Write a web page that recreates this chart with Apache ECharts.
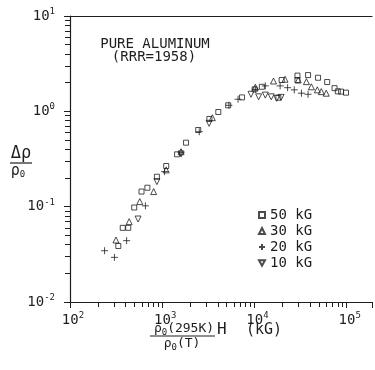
<!DOCTYPE html>
<html>
<head>
<meta charset="utf-8">
<script src="https://cdn.jsdelivr.net/npm/echarts@6/dist/echarts.min.js"></script>
<style>html,body{margin:0;padding:0;background:#fff}#c{width:375px;height:370px}</style>
</head>
<body>
<div id="c"></div>
<script>
// ---- data (x = rho0(295K)/rho0(T) * H [kG], y = delta rho / rho0) ----
const seriesNames = ['50 kG', '30 kG', '20 kG', '10 kG'];
const sq50 = [[334,0.0387],[373,0.060],[428,0.060],[497,0.098],[596,0.144],[690,0.158],[875,0.206],[1104,0.267],[1449,0.354],[1811,0.469],[2455,0.637],[3245,0.831],[4054,0.984],[5188,1.157],[7330,1.40],[10040,1.70],[12020,1.81],[18150,1.39],[19720,2.13],[29240,2.37],[29240,2.13],[38100,2.40],[48870,2.25],[61380,2.03],[73780,1.75],[80000,1.62],[86900,1.61],[98200,1.57]];
const tri30 = [[315,0.0447],[438,0.0696],[571,0.113],[807,0.144],[1104,0.243],[1600,0.377],[3494,0.857],[10210,1.79],[16070,2.08],[21430,2.17],[29780,2.13],[36560,2.05],[41380,1.81],[47970,1.68],[52970,1.61],[59980,1.55]];
const plus20 = [[237,0.0345],[303,0.0294],[411,0.044],[657,0.102],[1060,0.233],[1600,0.368],[2518,0.611],[5282,1.157],[6637,1.34],[10210,1.70],[13100,1.85],[18970,1.85],[22860,1.77],[26990,1.68],[32290,1.55],[38100,1.51]];
const dtri10 = [[547,0.0742],[875,0.183],[1600,0.357],[3221,0.748],[9160,1.51],[11090,1.42],[13100,1.48],[15180,1.42],[17420,1.37],[19410,1.40]];
const xTickExps = [2, 3, 4, 5];
const yTickExps = [-2, -1, 0, 1];
const titleLines = ['PURE ALUMINUM', '(RRR=1958)'];

// ---- helpers ----
const MONO = 'DejaVu Sans Mono';
const INK = '#1e1e1e';
const X_MAX_EXP = 5.274;
function minorTicks(exps) {
  const out = [];
  for (let i = 0; i < exps.length - 1; i++) {
    for (let k = 2; k <= 9; k++) out.push(exps[i] + Math.log10(k));
  }
  return out;
}
function powLabel(exps) {
  return function (v) {
    const l = Math.log10(v), e = Math.round(l);
    if (Math.abs(l - e) > 1e-6 || exps.indexOf(e) < 0) return '';
    return '{b|10}{s|' + e + '}';
  };
}
const labelRich = {
  b: { fontFamily: MONO, fontSize: 14, lineHeight: 14, color: INK },
  s: { fontFamily: MONO, fontSize: 9, lineHeight: 9, padding: [0, 0, 9, 0], color: INK }
};
const xLabelRich = {
  b: { fontFamily: MONO, fontSize: 14, lineHeight: 14, color: INK, padding: [0, 0, 0, 6] },
  s: { fontFamily: MONO, fontSize: 9, lineHeight: 9, padding: [0, 0, 9, 0], color: INK }
};
const hollow = { color: 'rgba(0,0,0,0)', borderColor: INK, borderWidth: 1 };
const PLUS = 'path://M0,5L10,5M5,0L5,10';
const DTRI = 'path://M0,0L10,0L5,9Z';

const chart = echarts.init(document.getElementById('c'), null, { renderer: 'canvas' });
chart.setOption({
  animation: false,
  backgroundColor: '#fff',
  grid: { left: 70, right: 0, top: 16, bottom: 68 },
  xAxis: [
    {
      type: 'log', logBase: 10, min: Math.pow(10, xTickExps[0]), max: Math.pow(10, X_MAX_EXP),
      position: 'bottom',
      axisLine: { show: true, onZero: false, lineStyle: { color: INK, width: 1.2 } },
      axisTick: { show: true, length: 6, lineStyle: { color: INK, width: 1 } },
      axisLabel: { show: true, margin: 11, formatter: powLabel(xTickExps), rich: xLabelRich, hideOverlap: false },
      splitLine: { show: false }
    },
    {
      type: 'value', min: xTickExps[0], max: X_MAX_EXP, position: 'bottom',
      axisLine: { show: true, onZero: false, lineStyle: { color: 'rgba(0,0,0,0)', width: 1 } },
      axisTick: { show: true, length: 5, customValues: minorTicks(xTickExps), lineStyle: { color: INK, width: 1 } },
      axisLabel: { show: false }, splitLine: { show: false }
    },
    {
      type: 'value', min: 0, max: 1, position: 'top',
      axisLine: { show: true, onZero: false, lineStyle: { color: INK, width: 1.2 } },
      axisTick: { show: false }, axisLabel: { show: false }, splitLine: { show: false }
    }
  ],
  yAxis: [
    {
      type: 'log', logBase: 10, min: Math.pow(10, yTickExps[0]), max: Math.pow(10, yTickExps[yTickExps.length - 1]),
      position: 'left',
      axisLine: { show: true, onZero: false, lineStyle: { color: INK, width: 1.2 } },
      axisTick: { show: true, length: 6, lineStyle: { color: INK, width: 1 } },
      axisLabel: { show: true, margin: 15, formatter: powLabel(yTickExps), rich: labelRich, hideOverlap: false },
      splitLine: { show: false }
    },
    {
      type: 'value', min: yTickExps[0], max: yTickExps[yTickExps.length - 1], position: 'left',
      axisLine: { show: false },
      axisTick: { show: true, length: 5, customValues: minorTicks(yTickExps), lineStyle: { color: INK, width: 1 } },
      axisLabel: { show: false }, splitLine: { show: false }
    }
  ],
  legend: {
    orient: 'vertical', left: 253, top: 203, itemGap: 2, itemWidth: 6, itemHeight: 6,
    textStyle: { fontFamily: MONO, fontSize: 14, color: INK },
    data: seriesNames, selectedMode: false
  },
  series: [
    { name: seriesNames[0], type: 'scatter', data: sq50, symbol: 'rect', symbolSize: 5, itemStyle: hollow, emphasis: { disabled: true } },
    { name: seriesNames[1], type: 'scatter', data: tri30, symbol: 'triangle', symbolSize: 6, itemStyle: hollow, emphasis: { disabled: true } },
    { name: seriesNames[2], type: 'scatter', data: plus20, symbol: PLUS, symbolSize: 7, itemStyle: hollow, emphasis: { disabled: true } },
    { name: seriesNames[3], type: 'scatter', data: dtri10, symbol: DTRI, symbolSize: 6, itemStyle: hollow, emphasis: { disabled: true } }
  ],
  graphic: [
    { type: 'text', x: 155, y: 44, style: { text: titleLines[0], fontFamily: MONO, fontSize: 14, fill: INK, align: 'center', verticalAlign: 'middle' } },
    { type: 'text', x: 154, y: 57, style: { text: titleLines[1], fontFamily: MONO, fontSize: 14, fill: INK, align: 'center', verticalAlign: 'middle' } },
    { type: 'text', x: 21, y: 154, style: { text: 'Δρ', fontFamily: MONO, fontSize: 17, fill: INK, align: 'center', verticalAlign: 'middle' } },
    { type: 'line', shape: { x1: 10, y1: 163, x2: 32, y2: 163 }, style: { stroke: INK, lineWidth: 1.2 } },
    { type: 'text', x: 18, y: 171, style: { text: 'ρ{sub|0}', fontFamily: MONO, fontSize: 15, fill: INK, align: 'center', verticalAlign: 'middle',
      rich: { sub: { fontFamily: MONO, fontSize: 9, lineHeight: 9, padding: [7, 0, 0, 0], fill: INK } } } },
    { type: 'text', x: 184, y: 329, style: { text: 'ρ{sub|0}(295K)', fontFamily: MONO, fontSize: 13, fill: INK, align: 'center', verticalAlign: 'middle',
      rich: { sub: { fontFamily: MONO, fontSize: 9, lineHeight: 9, padding: [7, 0, 0, 0], fill: INK } } } },
    { type: 'line', shape: { x1: 150, y1: 336, x2: 215, y2: 336 }, style: { stroke: INK, lineWidth: 1.2 } },
    { type: 'text', x: 182, y: 344, style: { text: 'ρ{sub|0}(T)', fontFamily: MONO, fontSize: 13, fill: INK, align: 'center', verticalAlign: 'middle',
      rich: { sub: { fontFamily: MONO, fontSize: 9, lineHeight: 9, padding: [7, 0, 0, 0], fill: INK } } } },
    { type: 'text', x: 217, y: 330, style: { text: 'H', fontFamily: MONO, fontSize: 16, fill: INK, align: 'left', verticalAlign: 'middle' } },
    { type: 'text', x: 246, y: 330, style: { text: '(kG)', fontFamily: MONO, fontSize: 15, fill: INK, align: 'left', verticalAlign: 'middle' } }
  ]
});
</script>
</body>
</html>
